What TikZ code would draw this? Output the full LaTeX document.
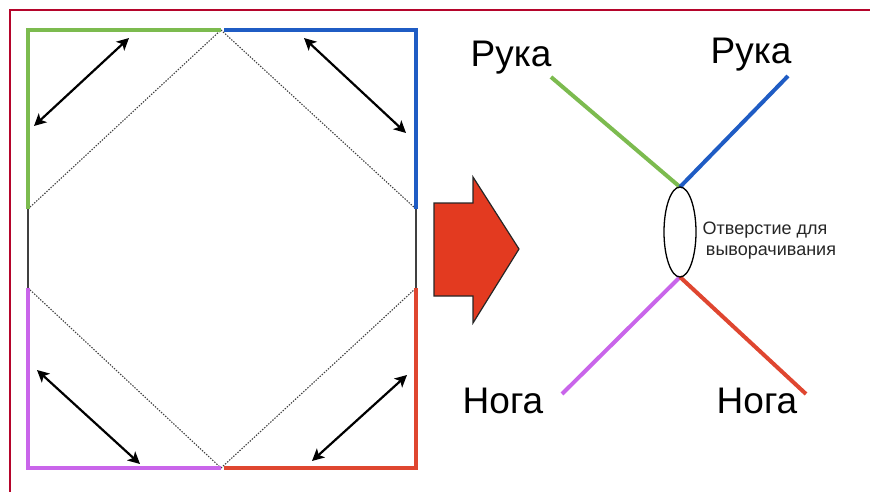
\documentclass[tikz,border=0pt]{standalone}
\usepackage{fontspec}
\setmainfont{Liberation Sans}
\usetikzlibrary{arrows.meta,shapes.geometric}
\definecolor{cgreen}{HTML}{7CBB4F}
\definecolor{cblue}{HTML}{1F5CC4}
\definecolor{cviolet}{HTML}{C965EA}
\definecolor{cred}{HTML}{DF4630}
\definecolor{cframe}{HTML}{B5052B}
\definecolor{cfill}{HTML}{E33A20}
\tikzset{
  limb/.style={line width=4pt,line cap=butt,line join=miter},
  thin edge/.style={draw=black!75,line width=1.3pt},
  fold/.style={draw=black!75,line width=1.1pt,dash pattern=on 1.4pt off 1.4pt},
  move/.style={draw=black,line width=2.2pt,{Stealth[length=12pt,width=12pt,inset=3pt]}-{Stealth[length=12pt,width=12pt,inset=3pt]}},
  big label/.style={font=\fontsize{37}{42}\selectfont,text=black,inner sep=0pt,anchor=center},
  small label/.style={font=\fontsize{18}{22}\selectfont,text=black!85,inner sep=0pt,anchor=center}
}
\begin{document}
\begin{tikzpicture}[x=1pt,y=-1pt]
\useasboundingbox (0,0) rectangle (870,492);
\coordinate (tl) at (28,30);
\coordinate (tm) at (221,30);
\coordinate (tmr) at (224,30);
\coordinate (tr) at (416,30);
\coordinate (lu) at (28,209);
\coordinate (ll) at (28,288);
\coordinate (ru) at (416,209);
\coordinate (rl) at (416,288);
\coordinate (bl) at (28,468);
\coordinate (bm) at (221,468);
\coordinate (bmr) at (224,468);
\coordinate (br) at (416,468);
\coordinate (ftl) at (9.5,10);
\coordinate (ftr) at (870,10);
\coordinate (fbl) at (9.5,492);
\draw[cframe,line width=2pt] (fbl) -- (ftl) -- (ftr);
% square sides
\draw[thin edge] (lu) -- (ll);
\draw[thin edge] (ru) -- (rl);
% fold lines
\draw[fold] (lu) -- (tm);
\draw[fold] (tm) -- (ru);
\draw[fold] (ll) -- (bm);
\draw[fold] (bm) -- (rl);
% coloured edges
\draw[limb,cgreen] (lu) -- (tl) -- (tm);
\draw[limb,cblue] (tmr) -- (tr) -- (ru);
\draw[limb,cviolet] (ll) -- (bl) -- (bm);
\draw[limb,cred] (bmr) -- (br) -- (rl);
% arrows
\coordinate (a1s) at (34,126); \coordinate (a1e) at (129,38);
\coordinate (a2s) at (304,38); \coordinate (a2e) at (406,133);
\coordinate (a3s) at (37,370); \coordinate (a3e) at (140,464);
\coordinate (a4s) at (312,461); \coordinate (a4e) at (407,375);
\draw[move] (a1s) -- (a1e);
\draw[move] (a2s) -- (a2e);
\draw[move] (a3s) -- (a3e);
\draw[move] (a4s) -- (a4e);
% block arrow
\draw[fill=cfill,draw=black!85,line width=1.2pt] (434,203) -- (473,203) -- (473,177) -- (519,249) -- (473,323) -- (473,296) -- (434,296) -- cycle;
% right figure
\coordinate (jt) at (680,187);
\coordinate (jb) at (680,277);
\coordinate (eg) at (551,77);
\coordinate (eb) at (788,76);
\coordinate (ev) at (562,394);
\coordinate (er) at (806,394);
\draw[limb,cgreen] (eg) -- (jt);
\draw[limb,cblue] (eb) -- (jt);
\draw[limb,cviolet] (ev) -- (jb);
\draw[limb,cred] (er) -- (jb);
\node[draw=black,line width=1.3pt,ellipse,minimum width=32pt,minimum height=90pt,inner sep=0pt] (hole) at (680,232) {};
\node[big label] (t1) at (511,58) {Рука};
\node[big label] (t2) at (751,55) {Рука};
\node[big label] (t3) at (503,401) {Нога};
\node[big label] (t4) at (757,401) {Нога};
\node[small label] (t5) at (765,230) {Отверстие для};
\node[small label] (t6) at (771,253) {выворачивания};
\end{tikzpicture}
\end{document}
